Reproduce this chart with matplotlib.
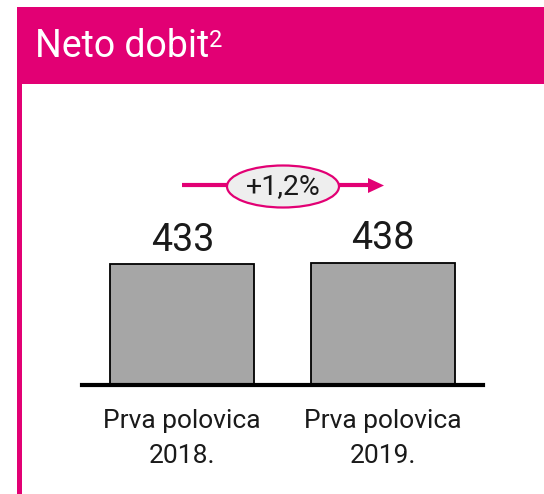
import matplotlib
matplotlib.use("Agg")
import matplotlib.pyplot as plt
from matplotlib.patches import Rectangle, Ellipse

categories = ["Prva polovica\n2018.", "Prva polovica\n2019."]
values = [433, 438]
value_labels = ["433", "438"]
change_label = "+1,2%"
title = "Neto dobit"
title_sup = "2"

MAGENTA = "#E20074"
BAR = "#A6A6A6"
TXT = "#1a1a1a"
FONT = ["Roboto", "Liberation Sans", "DejaVu Sans"]
WT = "normal"

W, H = 544, 494
fig = plt.figure(figsize=(W / 100, H / 100), dpi=100)
fig.patch.set_facecolor("white")

# overlay axes in pixel coordinates for the panel decoration
ov = fig.add_axes([0, 0, 1, 1])
ov.set_xlim(0, W)
ov.set_ylim(H, 0)
ov.axis("off")
ov.add_patch(Rectangle((17, 7), W - 17 + 5, 77, facecolor=MAGENTA, edgecolor="none"))
ov.add_patch(Rectangle((17, 7), 5, H, facecolor=MAGENTA, edgecolor="none"))
t = ov.text(35, 57, title, color="white", fontsize=27, family=FONT, va="baseline", ha="left")
ov.annotate(title_sup, xy=(1, 1), xycoords=t, xytext=(0, -1), textcoords="offset points",
            color="white", fontsize=17, family=FONT, va="top", ha="left")

# change arrow with ellipse
ov.add_line(plt.Line2D([182, 368], [185.5, 185.5], color=MAGENTA, lw=3,
                       solid_capstyle="butt", zorder=1))
ov.add_patch(plt.Polygon([[368, 178], [384, 185.5], [368, 193]], closed=True,
                         facecolor=MAGENTA, edgecolor="none", zorder=1))
ov.add_patch(Ellipse((283, 186.5), 112, 42, facecolor="#EEEEEE", edgecolor=MAGENTA,
                     lw=1.6, zorder=2))
ov.text(283, 187, change_label, ha="center", va="center", fontsize=20.5, color=TXT,
        family=FONT, fontweight=WT, zorder=3)

# bar chart axes
x0, x1 = 82, 483
ybase = 385
ymax = 500
px_per_unit = 121 / 433
ytop = ybase - ymax * px_per_unit
ax = fig.add_axes([x0 / W, 1 - ybase / H, (x1 - x0) / W, (ybase - ytop) / H])
ax.patch.set_alpha(0)
xs = list(range(len(values)))
ax.bar(xs, values, width=0.718, color=BAR, edgecolor="black", linewidth=1.3, zorder=2)
ax.set_xlim(-0.5, 1.5)
ax.set_ylim(0, ymax)
for s in ["top", "right", "left"]:
    ax.spines[s].set_visible(False)
ax.spines["bottom"].set_linewidth(3)
ax.spines["bottom"].set_color("black")
ax.spines["bottom"].set_zorder(3)
ax.set_yticks([])
ax.set_xticks(xs)
ax.set_xticklabels(categories, fontsize=19, color=TXT, family=FONT, fontweight=WT,
                   linespacing=1.6)
ax.tick_params(axis="x", length=0, pad=17)
for xi, v, lab in zip(xs, values, value_labels):
    ax.annotate(lab, xy=(xi, v), xytext=(0, 9.5), textcoords="offset points",
                ha="center", va="baseline", fontsize=27, color=TXT, family=FONT,
                fontweight=WT)

fig.savefig("out.png", dpi=100)
